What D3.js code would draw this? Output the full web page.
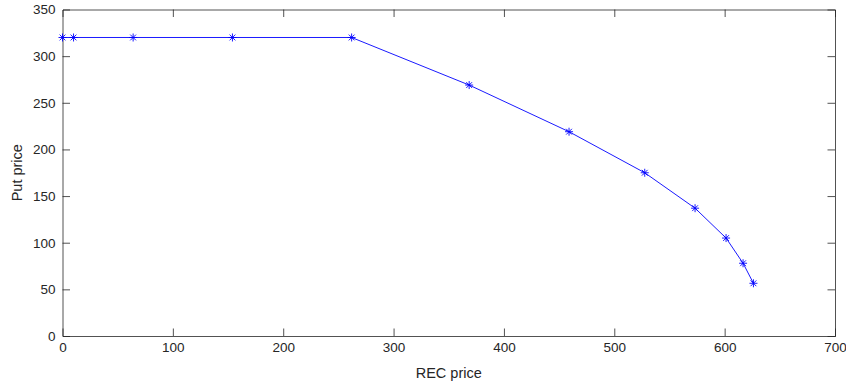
<!DOCTYPE html>
<html>
<head>
<meta charset="utf-8">
<script src="https://cdn.jsdelivr.net/npm/d3@7"></script>
<style>
  html, body { margin: 0; padding: 0; background: #fff; }
  svg { display: block; }
  text { font-family: "Liberation Sans", Arial, Helvetica, sans-serif; fill: #262626; }
</style>
</head>
<body>
<svg id="chart" width="846" height="385"></svg>
<script>
// REC price vs. put price
const recPrice = [0, 10, 64, 154, 262, 368.5, 459, 527.6, 573.2, 601.3, 616.7, 626.1];
const putPrice = [320, 320, 320, 320, 320, 269, 219, 175, 137, 105, 78, 56.5];
const xTicks = [0, 100, 200, 300, 400, 500, 600, 700];
const yTicks = [0, 50, 100, 150, 200, 250, 300, 350];

const W = 846, H = 385;
const margin = { left: 62.5, right: 11, top: 9.5, bottom: 49 };
const svg = d3.select("#chart");

const x = d3.scaleLinear().domain([0, 700]).range([margin.left, W - margin.right]);
const y = d3.scaleLinear().domain([0, 350]).range([H - margin.bottom, margin.top]);

const axisColor = "#262626";
const tickLen = 7.5;

// Bottom axis with inward ticks
const gx = svg.append("g")
  .attr("transform", `translate(0,${y(0)})`)
  .call(d3.axisBottom(x).tickValues(xTicks).tickSize(-tickLen).tickPadding(6).tickFormat(d3.format("d")));
// Left axis with inward ticks
const gy = svg.append("g")
  .attr("transform", `translate(${x(0)},0)`)
  .call(d3.axisLeft(y).tickValues(yTicks).tickSize(-tickLen).tickPadding(7).tickFormat(d3.format("d")));
// Top and right box edges, also ticked
const gt = svg.append("g")
  .attr("transform", `translate(0,${y(350)})`)
  .call(d3.axisTop(x).tickValues(xTicks).tickSize(-tickLen).tickFormat(""));
const gr = svg.append("g")
  .attr("transform", `translate(${x(700)},0)`)
  .call(d3.axisRight(y).tickValues(yTicks).tickSize(-tickLen).tickFormat(""));

[gx, gy, gt, gr].forEach(g => {
  g.select(".domain").attr("stroke", axisColor).attr("stroke-width", 0.8);
  g.selectAll(".tick line").attr("stroke", axisColor).attr("stroke-width", 0.8);
  g.selectAll(".tick text").attr("fill", axisColor).style("font-size", "13.5px")
    .style("font-family", "'Liberation Sans', Arial, sans-serif");
});
// Remove the end ticks that fall on the box edges
[gx, gt].forEach(g => g.selectAll(".tick line").filter(d => d === 0 || d === 700).remove());
[gy, gr].forEach(g => g.selectAll(".tick line").filter(d => d === 0 || d === 350).remove());

// Data line
const pts = recPrice.map((v, i) => [v, putPrice[i]]);
svg.append("path")
  .datum(pts)
  .attr("fill", "none")
  .attr("stroke", "#0000ff")
  .attr("stroke-width", 0.9)
  .attr("d", d3.line().x(d => x(d[0])).y(d => y(d[1])));

// Asterisk markers
const r = 4, rd = r * 0.72;
const star = `M${-r},0L${r},0M0,${-r}L0,${r}M${-rd},${-rd}L${rd},${rd}M${-rd},${rd}L${rd},${-rd}`;
svg.append("g").selectAll("path")
  .data(pts)
  .join("path")
  .attr("transform", d => `translate(${x(d[0])},${y(d[1])})`)
  .attr("d", star)
  .attr("fill", "none")
  .attr("stroke", "#0000ff")
  .attr("stroke-width", 0.9);

// Axis titles
svg.append("text")
  .attr("x", (x(0) + x(700)) / 2)
  .attr("y", 378)
  .attr("text-anchor", "middle")
  .style("font-size", "14.5px")
  .text("REC price");
svg.append("text")
  .attr("transform", `translate(22,${(y(0) + y(350)) / 2}) rotate(-90)`)
  .attr("text-anchor", "middle")
  .style("font-size", "14.5px")
  .text("Put price");
</script>
</body>
</html>
